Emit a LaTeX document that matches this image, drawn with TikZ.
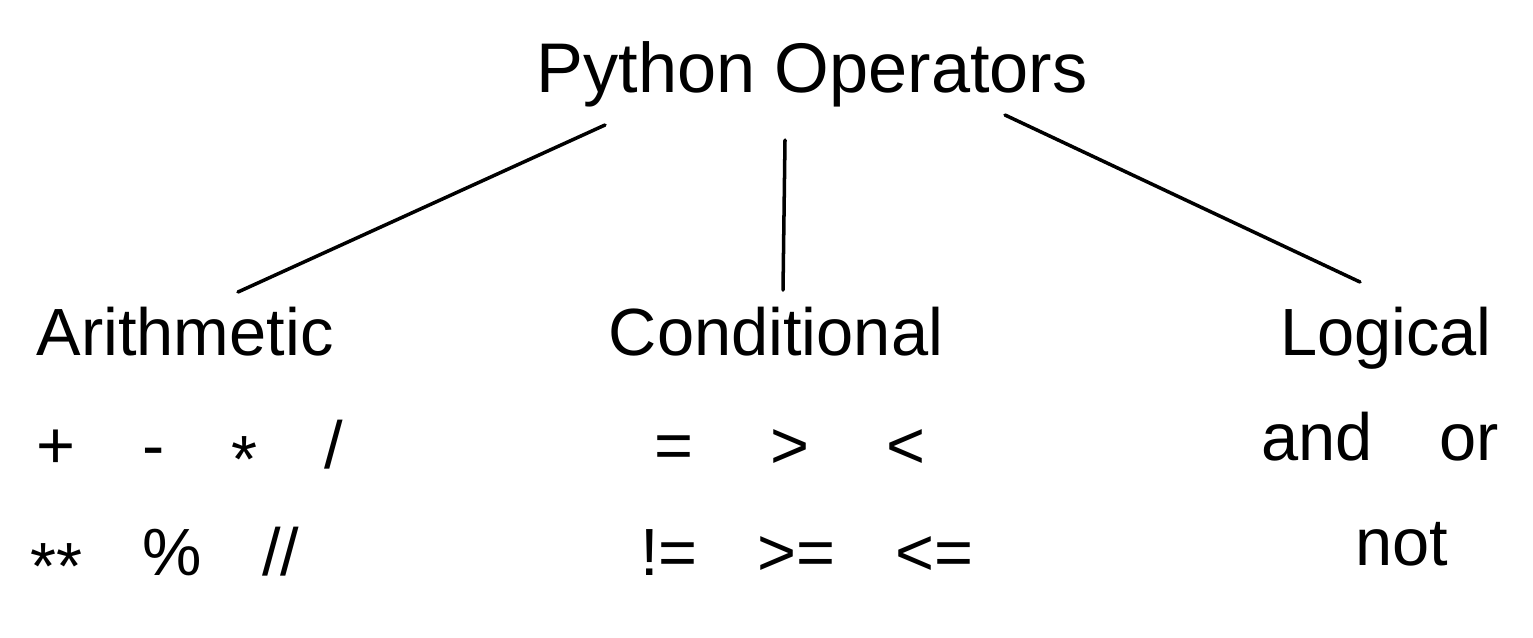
\documentclass[tikz,border=0pt]{standalone}
\usepackage{fontspec}
\setmainfont{Liberation Sans}
\newcommand{\lowstar}{\raisebox{-0.22em}{*}}
\begin{document}
\begin{tikzpicture}[
  head/.style={anchor=base, inner sep=0pt, font=\fontsize{20pt}{24pt}\selectfont},
  cat/.style={anchor=base, inner sep=0pt, font=\fontsize{19pt}{23pt}\selectfont},
  ops/.style={anchor=base, inner sep=0pt, font=\fontsize{19pt}{23pt}\selectfont},
  link/.style={line width=1pt, line cap=round}
]
\useasboundingbox (0, 0) rectangle (15.33, -6.37);

\node (title) at (8.12, -0.92) [head] {Python Operators};

\node (arith) at (1.85, -3.55) [cat] {Arithmetic};
\node (cond) at (7.76, -3.55) [cat] {Conditional};
\node (logic) at (13.86, -3.55) [cat] {Logical};

\node (arithA) at (1.90, -4.68) [ops] {+\hspace{1em}-\hspace{1em}\lowstar\hspace{1em}/};
\node (arithB) at (1.65, -5.75) [ops] {\lowstar\lowstar\hspace{0.9em}\%\hspace{0.9em}//};
\node (condA) at (7.90, -4.68) [ops] {=\hspace{1.15em}>\hspace{1.15em}<};
\node (condB) at (8.07, -5.75) [ops] {!=\hspace{0.9em}>=\hspace{0.9em}<=};
\node (logicA) at (13.80, -4.60) [ops] {and\hspace{1em}or};
\node (logicB) at (14.02, -5.65) [ops] {not};

\draw [link] ([shift={(-2.07,-0.33)}]title.base) -- ([shift={(0.53,0.63)}]arith.base);
\draw [link] ([shift={(-0.27,-0.48)}]title.base) -- ([shift={(0.07,0.65)}]cond.base);
\draw [link] ([shift={(1.93,-0.23)}]title.base) -- ([shift={(-0.26,0.73)}]logic.base);
\end{tikzpicture}
\end{document}
